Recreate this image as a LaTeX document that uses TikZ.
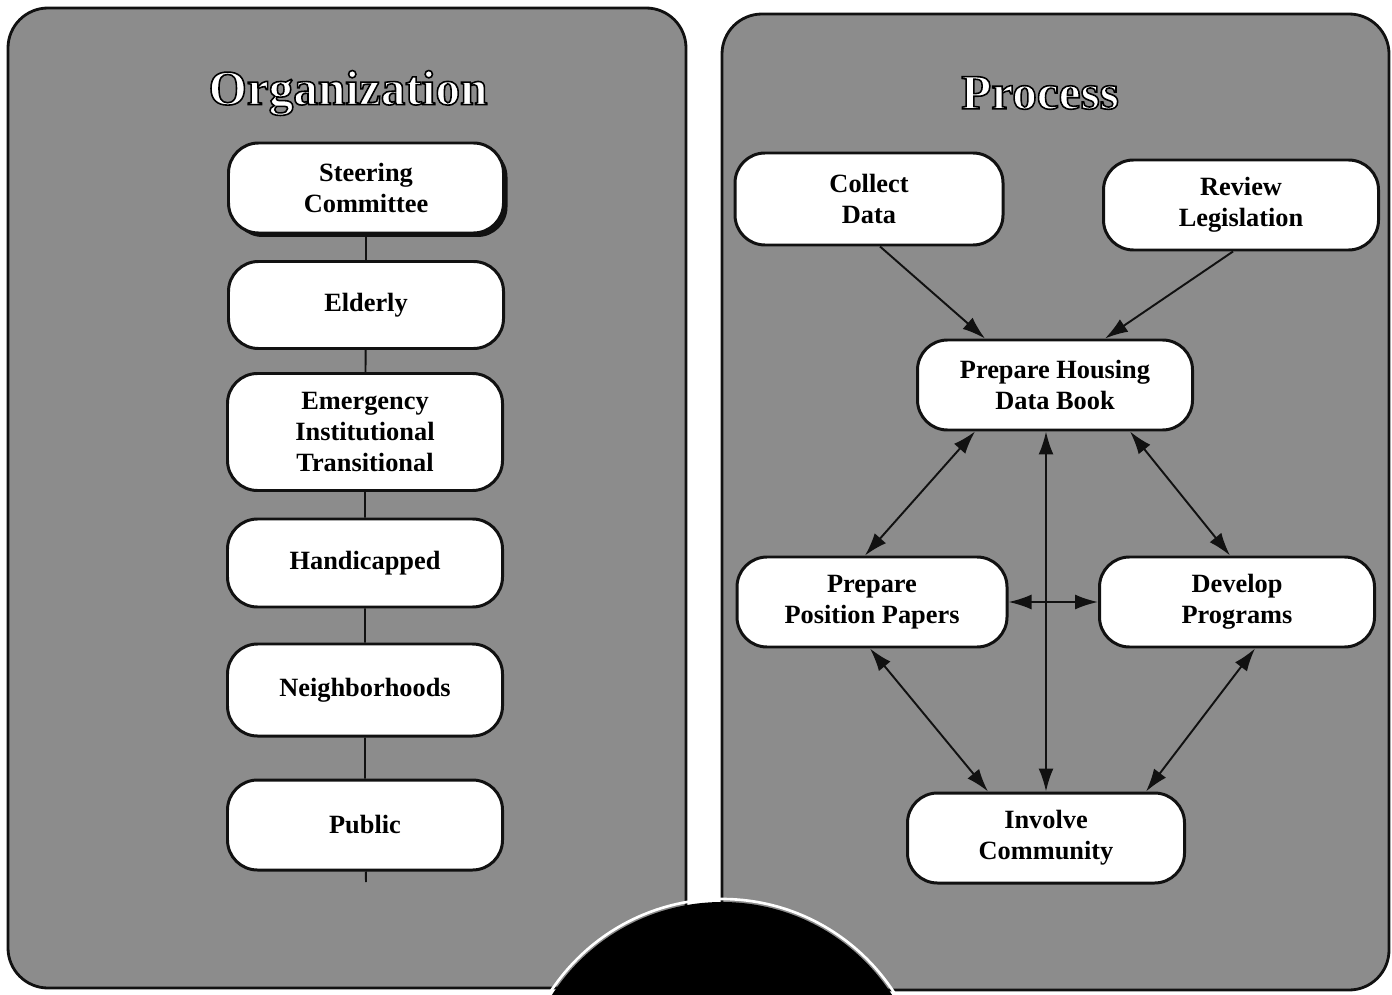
\documentclass[tikz,border=0pt]{standalone}
\usepackage{fontspec}
\setmainfont{Liberation Serif}
\usetikzlibrary{arrows.meta, shadows}
\definecolor{screen}{HTML}{8C8C8C}
\definecolor{inkdark}{HTML}{111111}
% white letters with a black outline (fill and stroke text mode)
\newcommand{\headline}[1]{{\color{white}%
  \special{pdf:literal direct 0 G 2 Tr 0.9 w}#1%
  \special{pdf:literal direct 0 Tr}}}

\begin{document}
\begin{tikzpicture}[font=\fontsize{15}{17.5}\selectfont\bfseries,
    panel/.style={draw=inkdark, line width=1.6pt, fill=screen,
                  rounded corners=0.8cm},
    box/.style={draw=inkdark, line width=1.7pt, rounded corners=0.6cm,
                fill=white, minimum width=5.5cm, minimum height=1.8cm,
                align=center},
    link/.style={draw=inkdark, line width=1.1pt},
    onearrow/.style={link, -{Latex[length=0.46cm, width=0.3cm]}},
    twoarrow/.style={link, {Latex[length=0.46cm, width=0.3cm]}-{Latex[length=0.46cm, width=0.3cm]}}]
  \useasboundingbox (0,0) rectangle (27.84,-19.9);
  \clip (0,0) rectangle (27.84,-19.9);
  % the two panels
  \draw[panel] (0.16,-0.16) rectangle (13.72,-19.76);
  \draw[panel] (14.44,-0.28) rectangle (27.78,-19.8);
  \node[font=\fontsize{28}{32}\selectfont\bfseries] (orgtitle) at (6.96,-1.86) {\headline{Organization}};
  \node[font=\fontsize{28}{32}\selectfont\bfseries] (proctitle) at (20.8,-1.86) {\headline{Process}};
  % organization chart
  \node[box, drop shadow={shadow xshift=0.08cm, shadow yshift=-0.08cm, fill=inkdark, opacity=1}]
    (steer) at (7.32,-3.76) {Steering\\Committee};
  \node[box, minimum height=1.74cm] (elderly) at (7.32,-6.1) {Elderly};
  \node[box, minimum height=2.34cm] (emerg) at (7.3,-8.64) {Emergency\\Institutional\\Transitional};
  \node[box, minimum height=1.76cm] (handi) at (7.3,-11.26) {Handicapped};
  \node[box, minimum height=1.84cm] (neigh) at (7.3,-13.8) {Neighborhoods};
  \node[box] (public) at (7.3,-16.5) {Public};
  \coordinate (orgend) at (7.32,-17.64);
  \draw[link] (steer) -- (elderly) -- (emerg) -- (handi) -- (neigh) -- (public) -- (orgend);
  % process chart
  \node[box, minimum width=5.36cm, minimum height=1.84cm] (collect) at (17.38,-3.98) {Collect\\Data};
  \node[box] (review) at (24.82,-4.1) {Review\\Legislation};
  \node[box] (book) at (21.1,-7.7) {Prepare Housing\\Data Book};
  \node[box, minimum width=5.4cm] (papers) at (17.44,-12.04) {Prepare\\Position Papers};
  \node[box] (develop) at (24.74,-12.04) {Develop\\Programs};
  \node[box, minimum width=5.54cm] (involve) at (20.92,-16.76) {Involve\\Community};
  \draw[onearrow] ([xshift=0.22cm]collect.south) -- ([xshift=-1.4cm]book.north);
  \draw[onearrow] ([xshift=-0.16cm]review.south) -- ([xshift=1.0cm]book.north);
  \draw[twoarrow] ([xshift=-1.6cm]book.south) -- ([xshift=-0.14cm]papers.north);
  \draw[twoarrow] ([xshift=1.5cm]book.south) -- ([xshift=-0.14cm]develop.north);
  \draw[twoarrow] (involve.north |- book.south) -- (involve.north);
  \draw[twoarrow] (papers) -- (develop);
  \draw[twoarrow] ([xshift=-0.04cm]papers.south) -- ([xshift=-1.16cm]involve.north);
  \draw[twoarrow] ([xshift=0.36cm]develop.south) -- ([xshift=2.0cm]involve.north);
  % dark disc at the foot of the page
  \fill[black] (14.44,-22.08) circle (4.04);
  \draw[white, line width=1.5pt] (14.44,-22.08) circle (4.1);
\end{tikzpicture}
\end{document}
